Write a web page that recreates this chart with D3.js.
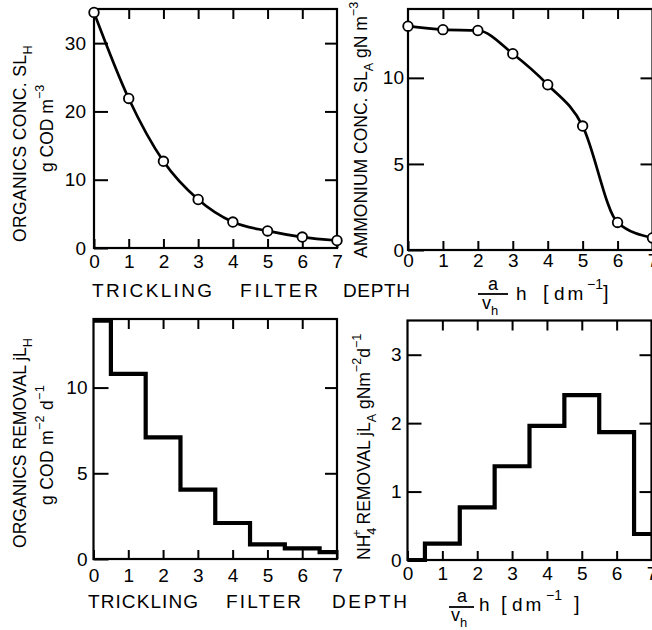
<!DOCTYPE html>
<html>
<head>
<meta charset="utf-8">
<script src="https://cdn.jsdelivr.net/npm/d3@7"></script>
<style>
  html, body { margin: 0; padding: 0; background: #fff; }
  svg { display: block; }
  text { font-family: "Liberation Sans", Arial, "DejaVu Sans", sans-serif; fill: #000; }
</style>
</head>
<body>
<svg id="chart" width="652" height="630"></svg>
<script>
// Depth positions (a/v_h · h, dm^-1) where concentrations were sampled
const depth = [0, 1, 2, 3, 4, 5, 6, 7];
// Organics concentration S_LH, g COD m^-3
const organicsConc = [34.5, 21.9, 12.7, 7.1, 3.8, 2.5, 1.6, 1.1];
// Ammonium concentration S_LA, g N m^-3
const ammoniumConc = [13.0, 12.8, 12.75, 11.4, 9.6, 7.2, 1.6, 0.7];

// Removal rates are given per depth segment; segment edges:
const segmentEdges = [0, 0.5, 1.5, 2.5, 3.5, 4.5, 5.5, 6.5, 7];
// Organics removal j_LH, g COD m^-2 d^-1
const organicsRemoval = [13.9, 10.8, 7.1, 4.05, 2.1, 0.85, 0.62, 0.4];
// NH4+ removal j_LA, g N m^-2 d^-1
const ammoniumRemoval = [0, 0.24, 0.77, 1.37, 1.96, 2.41, 1.87, 0.38];

// Tick labels
const xTickValues = [0, 1, 2, 3, 4, 5, 6, 7];
const yTicksOrganicsConc = [0, 10, 20, 30];
const yTicksAmmoniumConc = [0, 5, 10];
const yTicksOrganicsRemoval = [0, 5, 10];
const yTicksAmmoniumRemoval = [0, 1, 2, 3];

const svg = d3.select("#chart");
const intFmt = d3.format("d");

// Panel frames (pixel boxes) and value domains
const panels = {
  tl: { x: [94, 337],    y: [248, 9],   yMax: 35,  yTicks: yTicksOrganicsConc,    yPad: 8,  xPad: 7,  yTick: 14 },
  tr: { x: [408, 652.5], y: [250, 9],   yMax: 14,  yTicks: yTicksAmmoniumConc,    yPad: 4,  xPad: 4,  yTick: 16 },
  bl: { x: [93.5, 337],  y: [559, 319], yMax: 14,  yTicks: yTicksOrganicsRemoval, yPad: 6,  xPad: 10, yTick: 15 },
  br: { x: [407.5, 651.5], y: [560, 320.5], yMax: 3.5, yTicks: yTicksAmmoniumRemoval, yPad: 6, xPad: 7, yTick: 14 }
};

function buildPanel(p) {
  p.sx = d3.scaleLinear().domain([0, 7]).range(p.x);
  p.sy = d3.scaleLinear().domain([0, p.yMax]).range(p.y);
  const g = svg.append("g");
  const [x0, x1] = p.x, [y0, y1] = p.y;

  // bottom axis with labels, ticks pointing inward
  g.append("g").attr("transform", `translate(0,${y0})`)
    .call(d3.axisBottom(p.sx).tickValues(xTickValues).tickFormat(intFmt)
      .tickSizeInner(-9).tickSizeOuter(0).tickPadding(p.xPad))
    .call(a => a.select(".domain").remove());
  // top axis ticks
  g.append("g").attr("transform", `translate(0,${y1})`)
    .call(d3.axisTop(p.sx).tickValues(xTickValues.slice(1, -1)).tickSizeInner(-10).tickSizeOuter(0).tickFormat(""))
    .call(a => a.select(".domain").remove());
  // left axis with labels
  g.append("g").attr("transform", `translate(${x0},0)`)
    .call(d3.axisLeft(p.sy).tickValues(p.yTicks).tickFormat(intFmt)
      .tickSizeInner(-p.yTick).tickSizeOuter(0).tickPadding(p.yPad))
    .call(a => a.select(".domain").remove());
  // right axis ticks
  g.append("g").attr("transform", `translate(${x1},0)`)
    .call(d3.axisRight(p.sy).tickValues(p.yTicks.slice(1)).tickSizeInner(-12).tickSizeOuter(0).tickFormat(""))
    .call(a => a.select(".domain").remove());

  g.selectAll(".tick line").attr("stroke", "#000").attr("stroke-width", 2);
  g.selectAll(".tick text").attr("font-size", 19).attr("font-family", "\"Liberation Sans\", Arial, sans-serif");

  // frame
  g.append("rect")
    .attr("x", x0).attr("y", y1)
    .attr("width", x1 - x0).attr("height", y0 - y1)
    .attr("fill", "none").attr("stroke", "#000").attr("stroke-width", 2.2);
  p.g = g;
}

Object.values(panels).forEach(buildPanel);

// Concentration profiles: smooth line through the measured points
function drawProfile(p, values) {
  const pts = depth.map((d, i) => [d, values[i]]);
  p.g.append("path")
    .attr("d", d3.line().x(d => p.sx(d[0])).y(d => p.sy(d[1])).curve(d3.curveMonotoneX)(pts))
    .attr("fill", "none").attr("stroke", "#000").attr("stroke-width", 2.7);
  p.g.selectAll("circle.pt").data(pts).join("circle")
    .attr("class", "pt")
    .attr("cx", d => p.sx(d[0])).attr("cy", d => p.sy(d[1]))
    .attr("r", 4.8)
    .attr("fill", "#fff").attr("stroke", "#000").attr("stroke-width", 1.8);
}
drawProfile(panels.tl, organicsConc);
drawProfile(panels.tr, ammoniumConc);

// Removal rates: step outline over the depth segments
function drawSteps(p, values) {
  const pts = values.map((v, i) => [segmentEdges[i], v]);
  pts.push([segmentEdges[segmentEdges.length - 1], values[values.length - 1]]);
  p.g.append("path")
    .attr("d", d3.line().x(d => p.sx(d[0])).y(d => p.sy(d[1])).curve(d3.curveStepAfter)(pts))
    .attr("fill", "none").attr("stroke", "#000").attr("stroke-width", 4.2)
    .attr("stroke-linejoin", "miter");
}
drawSteps(panels.bl, organicsRemoval);
drawSteps(panels.br, ammoniumRemoval);

// Rich text helper: parts with optional sub/superscript
function rich(textSel, parts, size) {
  let off = 0;
  parts.forEach(p => {
    const target = p.sub ? size * 0.32 : p.sup ? -size * 0.5 : 0;
    const t = textSel.append("tspan").text(p.t)
      .attr("font-size", (p.sub || p.sup) ? size * 0.72 : size)
      .attr("dy", target - off);
    if (p.dx) t.attr("dx", p.dx);
    off = target;
  });
}

// Rotated axis title, spread out to a given run length
function yTitle(x, y, parts, size, runLength) {
  const t = svg.append("text")
    .attr("transform", `translate(${x},${y}) rotate(-90)`)
    .attr("font-size", size);
  rich(t, parts, size);
  const node = t.node();
  const len = node.getComputedTextLength();
  const n = node.getNumberOfChars();
  if (n > 1 && runLength > len) t.attr("letter-spacing", (runLength - len) / n);
}

// Y axis titles
yTitle(26, 242, [{t: "ORGANICS  CONC. SL"}, {t: "H", sub: true}], 17.5, 197);
yTitle(53, 172, [{t: "g COD m"}, {t: "−3", sup: true}], 17.5, 82);
yTitle(367, 258, [{t: "AMMONIUM  CONC.  SL"}, {t: "A", sub: true}, {t: " gN m"}, {t: "−3", sup: true}], 17.5, 246);
yTitle(26, 548, [{t: "ORGANICS  REMOVAL  jL"}, {t: "H", sub: true}], 17.5, 210);
yTitle(53, 505, [{t: "g COD m"}, {t: "−2", sup: true}, {t: " d"}, {t: "−1", sup: true}], 17.5, 120);
yTitle(370, 560, [{t: "NH"}, {t: "4", sub: true}, {t: "+", sup: true, dx: -9}, {t: " REMOVAL  jL"}, {t: "A", sub: true}, {t: " gNm"}, {t: "−2", sup: true}, {t: "d"}, {t: "−1", sup: true}], 17.5, 228);

// X axis titles (left panels): spaced capitals
function spacedWord(word, x0, x1, baseline) {
  svg.append("text")
    .attr("x", x0).attr("y", baseline)
    .attr("font-size", 19)
    .attr("textLength", x1 - x0)
    .attr("lengthAdjust", "spacing")
    .text(word);
}
[["TRICKLING", 92, 212], ["FILTER", 240, 318], ["DEPTH", 343, 410]].forEach(w => spacedWord(w[0], w[1], w[2], 297));
[["TRICKLING", 88, 198], ["FILTER", 226, 301], ["DEPTH", 332, 407]].forEach(w => spacedWord(w[0], w[1], w[2], 608));

// X axis titles (right panels): a / v_h · h [dm^-1]
function fractionTitle(o) {
  const g = svg.append("g");
  g.append("text").attr("x", o.cx).attr("y", o.aBase).attr("text-anchor", "middle").attr("font-size", 18).text("a");
  g.append("line").attr("x1", o.bar[0]).attr("x2", o.bar[1]).attr("y1", o.barY).attr("y2", o.barY)
    .attr("stroke", "#000").attr("stroke-width", 1.8);
  const v = g.append("text").attr("x", o.cx - 3).attr("y", o.vBase).attr("text-anchor", "middle").attr("font-size", 18);
  rich(v, [{t: "v"}, {t: "h", sub: true}], 18);
  g.append("text").attr("x", o.hX).attr("y", o.base).attr("font-size", 19).text("h");
  g.append("text").attr("x", o.lbX).attr("y", o.base).attr("font-size", 20).text("[");
  g.append("text").attr("x", o.dmX).attr("y", o.base).attr("font-size", 19).attr("letter-spacing", 3).text("dm");
  g.append("text").attr("x", o.supX).attr("y", o.base - 11).attr("font-size", 14).text("−1");
  g.append("text").attr("x", o.rbX).attr("y", o.base).attr("font-size", 20).text("]");
}
fractionTitle({ cx: 493, aBase: 290, bar: [478, 508], barY: 294, vBase: 309, hX: 516, lbX: 543, dmX: 554, supX: 587, rbX: 603, base: 300 });
fractionTitle({ cx: 462, aBase: 602, bar: [449, 474], barY: 607, vBase: 621, hX: 479, lbX: 501, dmX: 512, supX: 546, rbX: 574, base: 611 });
</script>
</body>
</html>
